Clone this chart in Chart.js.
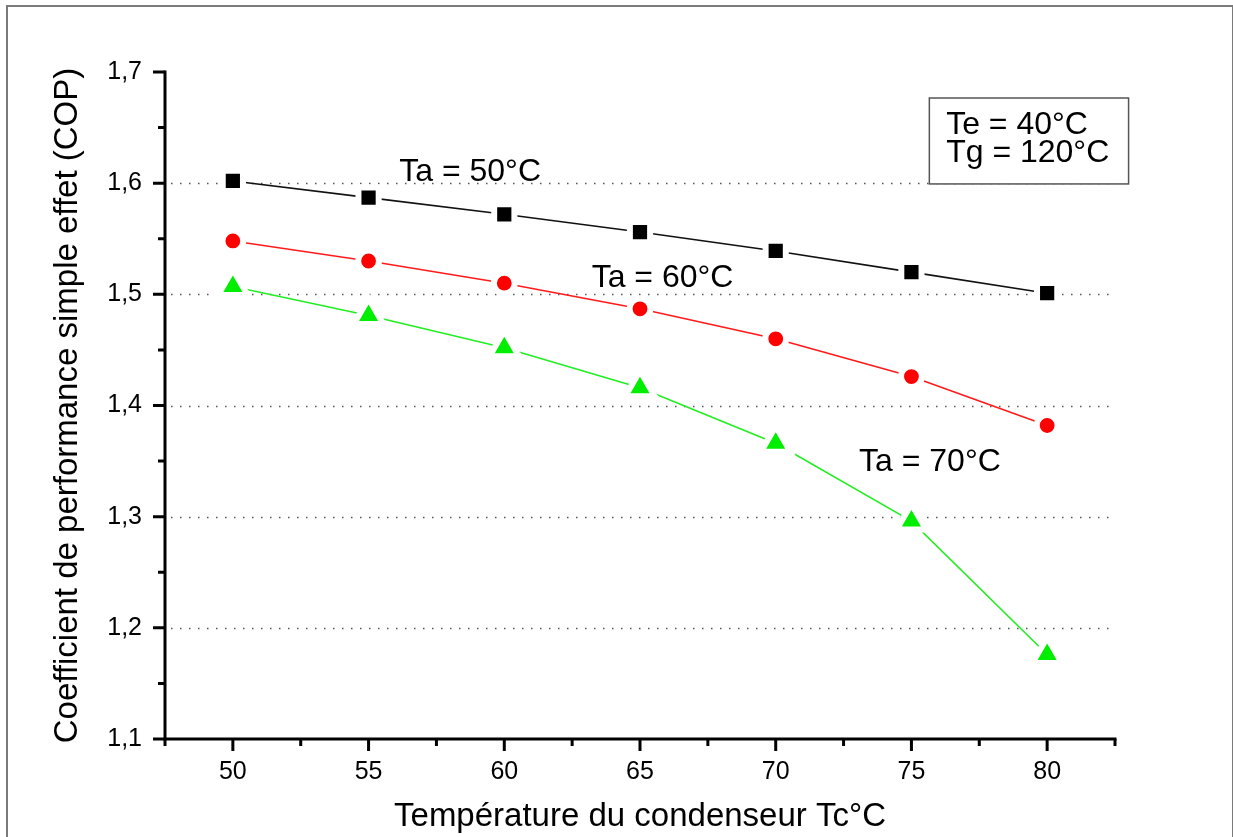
<!DOCTYPE html>
<html>
<head>
<meta charset="utf-8">
<script src="https://cdn.jsdelivr.net/npm/chart.js@4/dist/chart.umd.min.js"></script>
<style>
html,body{margin:0;padding:0;background:#fff;}
#wrap{width:1233px;height:837px;position:relative;}
</style>
</head>
<body>
<div id="wrap"><canvas id="c" width="1233" height="837"></canvas></div>
<script>
// ---- data ----
const temperatures = [50, 55, 60, 65, 70, 75, 80];
const copTa50 = [1.602, 1.587, 1.572, 1.556, 1.539, 1.520, 1.501];
const copTa60 = [1.548, 1.530, 1.510, 1.487, 1.460, 1.426, 1.382];
const copTa70 = [1.507, 1.481, 1.452, 1.416, 1.366, 1.296, 1.176];
const seriesLabels = ['Ta = 50°C', 'Ta = 60°C', 'Ta = 70°C'];
const xTickValues = [50, 55, 60, 65, 70, 75, 80];
const yTickValues = [1.1, 1.2, 1.3, 1.4, 1.5, 1.6, 1.7];
const boxLines = ['Te = 40°C', 'Tg = 120°C'];
const xTitle = 'Température du condenseur Tc°C';
const yTitle = 'Coefficient de performance simple effet (COP)';

const FONT = "'Liberation Sans', Arial, sans-serif";
const fmt = v => v.toFixed(1).replace('.', ',');
const pts = arr => temperatures.map((t, i) => ({x: t, y: arr[i]}));

// label anchors in data coordinates (left x, baseline y)
const labelAnchors = [
  {text: seriesLabels[0], x: 56.13, y: 1.602},
  {text: seriesLabels[1], x: 63.22, y: 1.5066},
  {text: seriesLabels[2], x: 73.07, y: 1.3411}
];

const decor = {
  id: 'decor',
  beforeDraw(chart) {
    const ctx = chart.ctx;
    ctx.save();
    ctx.fillStyle = '#fff';
    ctx.fillRect(0, 0, chart.width, chart.height);
    ctx.strokeStyle = '#7a7a7a';
    ctx.lineWidth = 2;
    ctx.strokeRect(7, 6, 1226, 840);
    ctx.restore();
  },
  beforeDatasetsDraw(chart) {
    const {ctx, chartArea: a, scales: {y}} = chart;
    ctx.save();
    ctx.strokeStyle = '#555';
    ctx.lineWidth = 1.3;
    ctx.setLineDash([1.5, 7.5]);
    yTickValues.slice(1, -1).forEach(v => {
      const py = Math.round(y.getPixelForValue(v)) + 0.5;
      ctx.beginPath();
      ctx.moveTo(a.left + 6, py);
      ctx.lineTo(a.right, py);
      ctx.stroke();
    });
    ctx.restore();
  },
  afterDatasetsDraw(chart) {
    const {ctx, chartArea: a, scales: {x, y}} = chart;
    ctx.save();
    ctx.strokeStyle = '#000';
    ctx.lineWidth = 3;
    ctx.lineCap = 'butt';
    // axes
    ctx.beginPath();
    ctx.moveTo(a.left, a.top - 1.5);
    ctx.lineTo(a.left, a.bottom + 1.5);
    ctx.moveTo(a.left - 1.5, a.bottom);
    ctx.lineTo(a.right + 1.5, a.bottom);
    ctx.stroke();
    // x ticks (major + minor)
    ctx.beginPath();
    xTickValues.forEach(v => {
      const px = x.getPixelForValue(v);
      ctx.moveTo(px, a.bottom); ctx.lineTo(px, a.bottom + 12);
    });
    const xMinor = [xTickValues[0] - 2.5].concat(xTickValues.map(v => v + 2.5));
    xMinor.forEach(v => {
      const px = x.getPixelForValue(v);
      ctx.moveTo(px, a.bottom); ctx.lineTo(px, a.bottom + 7);
    });
    // y ticks
    yTickValues.forEach(v => {
      const py = y.getPixelForValue(v);
      ctx.moveTo(a.left, py); ctx.lineTo(a.left - 12, py);
    });
    yTickValues.slice(0, -1).forEach(v => {
      const py = y.getPixelForValue(v + 0.05);
      ctx.moveTo(a.left, py); ctx.lineTo(a.left - 7, py);
    });
    ctx.stroke();

    // series annotations
    ctx.fillStyle = '#000';
    ctx.font = '32px ' + FONT;
    ctx.textAlign = 'left';
    ctx.textBaseline = 'alphabetic';
    labelAnchors.forEach(l => {
      ctx.fillText(l.text, x.getPixelForValue(l.x), y.getPixelForValue(l.y));
    });

    // condition box
    const bx0 = x.getPixelForValue(75.66), bx1 = x.getPixelForValue(83.0);
    const by0 = y.getPixelForValue(1.6766), by1 = y.getPixelForValue(1.5993);
    ctx.fillStyle = '#fff';
    ctx.fillRect(bx0, by0, bx1 - bx0, by1 - by0);
    ctx.strokeStyle = '#555';
    ctx.lineWidth = 1.5;
    ctx.strokeRect(bx0, by0, bx1 - bx0, by1 - by0);
    ctx.fillStyle = '#000';
    ctx.fillText(boxLines[0], x.getPixelForValue(76.28), y.getPixelForValue(1.6442));
    ctx.fillText(boxLines[1], x.getPixelForValue(76.28), y.getPixelForValue(1.619));
    ctx.restore();
  }
};

const ptBorder = {pointBorderColor: '#fff', pointBorderWidth: 6, pointHoverRadius: 0};

new Chart(document.getElementById('c'), {
  type: 'line',
  data: {
    datasets: [
      Object.assign({label: seriesLabels[0], data: pts(copTa50), borderColor: '#111', borderWidth: 1.6,
        pointStyle: 'rect', pointRadius: 14.3, pointBackgroundColor: '#000'}, ptBorder),
      Object.assign({label: seriesLabels[1], data: pts(copTa60), borderColor: '#ff1a1a', borderWidth: 1.6,
        pointStyle: 'circle', pointRadius: 10.4, pointBackgroundColor: '#ff0000'}, ptBorder),
      Object.assign({label: seriesLabels[2], data: pts(copTa70), borderColor: '#22ee22', borderWidth: 1.6,
        pointStyle: 'triangle', pointRadius: 17, pointBackgroundColor: '#00ee00'}, ptBorder)
    ]
  },
  options: {
    responsive: false,
    animation: false,
    devicePixelRatio: 1,
    events: [],
    layout: {padding: {left: 0, top: 72, right: 118, bottom: 0}},
    plugins: {legend: {display: false}, tooltip: {enabled: false}},
    elements: {line: {tension: 0}},
    scales: {
      x: {
        type: 'linear', min: 47.5, max: 82.5,
        afterBuildTicks: s => { s.ticks = xTickValues.map(v => ({value: v})); },
        afterFit: s => { s.height = 98; },
        grid: {display: false, drawTicks: false},
        border: {display: false},
        ticks: {color: '#000', font: {family: FONT, size: 25}, padding: 18, maxRotation: 0,
          callback: v => String(v)},
        title: {display: true, text: xTitle, color: '#000', font: {family: FONT, size: 33},
          padding: {top: 0, bottom: 0}}
      },
      y: {
        type: 'linear', min: 1.1, max: 1.7,
        afterBuildTicks: s => { s.ticks = yTickValues.map(v => ({value: v})); },
        afterFit: s => { s.width = 165; },
        grid: {display: false, drawTicks: false},
        border: {display: false},
        ticks: {color: '#000', font: {family: FONT, size: 25}, padding: 23,
          callback: v => fmt(v)},
        title: {display: true, text: yTitle, color: '#000', font: {family: FONT, size: 33},
          padding: {top: 48, bottom: 0}}
      }
    }
  },
  plugins: [decor]
});
</script>
</body>
</html>
